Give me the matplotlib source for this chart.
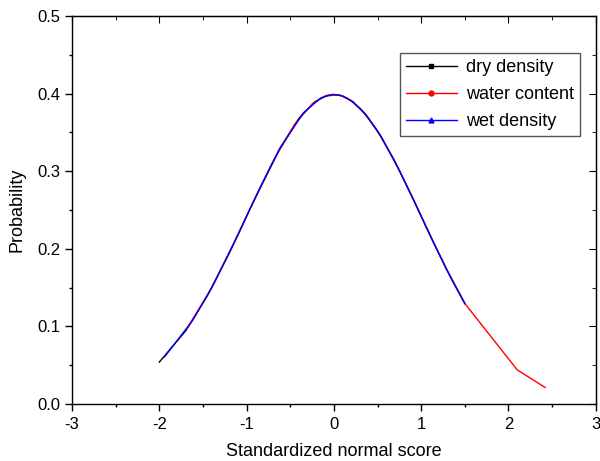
import matplotlib
matplotlib.use('Agg')
import matplotlib.pyplot as plt
from matplotlib.lines import Line2D
from matplotlib.ticker import MultipleLocator

plt.rcParams['font.family'] = ['Liberation Sans', 'DejaVu Sans']

# standardized scores and normal probabilities
dry_z = [-2.00, -1.70, -1.45, -1.20, -0.95, -0.62, -0.40, -0.22, -0.08, 0.00,
         0.10, 0.22, 0.38, 0.55, 0.75, 0.95, 1.15, 1.35, 1.50]
dry_p = [0.0540, 0.0940, 0.1394, 0.1942, 0.2541, 0.3292, 0.3683, 0.3894, 0.3977, 0.3989,
         0.3970, 0.3894, 0.3711, 0.3429, 0.3011, 0.2541, 0.2059, 0.1604, 0.1295]

water_z = [-1.68, -1.40, -1.15, -0.90, -0.70, -0.45, -0.25, -0.10, 0.05, 0.15,
           0.30, 0.48, 0.68, 0.88, 1.08, 1.28, 1.50, 2.10, 2.42]
water_p = [0.0973, 0.1497, 0.2059, 0.2661, 0.3123, 0.3605, 0.3867, 0.3970, 0.3984, 0.3945,
           0.3814, 0.3555, 0.3166, 0.2709, 0.2227, 0.1758, 0.1295, 0.0440, 0.0213]

wet_z = [-1.94, -1.62, -1.39, -1.10, -0.85, -0.62, -0.35, -0.15, -0.02, 0.08,
         0.20, 0.35, 0.52, 0.70, 0.90, 1.10, 1.30, 1.50]
wet_p = [0.0608, 0.1074, 0.1518, 0.2179, 0.2780, 0.3292, 0.3752, 0.3945, 0.3989, 0.3977,
         0.3910, 0.3752, 0.3485, 0.3123, 0.2661, 0.2179, 0.1714, 0.1295]

series = [
    ('dry density', dry_z, dry_p, 'black', 's'),
    ('water content', water_z, water_p, 'red', 'o'),
    ('wet density', wet_z, wet_p, 'blue', '^'),
]

fig = plt.figure(figsize=(6, 4.61), dpi=100)
ax = fig.add_axes([0.12, 0.1236, 0.873, 0.8416])

handles = []
for name, z, p, color, marker in series:
    ax.plot(z, p, color=color, lw=1.0)
    handles.append(Line2D([], [], color=color, lw=1.0, marker=marker,
                          markersize=3.5, label=name))

ax.set_xlim(-3, 3)
ax.set_ylim(0, 0.5)
ax.xaxis.set_major_locator(MultipleLocator(1))
ax.xaxis.set_minor_locator(MultipleLocator(0.5))
ax.yaxis.set_major_locator(MultipleLocator(0.1))
ax.yaxis.set_minor_locator(MultipleLocator(0.05))
ax.xaxis.set_major_formatter(lambda v, pos: '%d' % round(v))
ax.yaxis.set_major_formatter(lambda v, pos: '%.1f' % v)
ax.tick_params(which='major', direction='out', length=5, width=1, labelsize=12)
ax.tick_params(which='minor', direction='out', length=2.5, width=1)
ax.tick_params(axis='x', pad=4)

# top / right axes with inward ticks, no labels
top = ax.secondary_xaxis('top')
top.xaxis.set_major_locator(MultipleLocator(1))
top.xaxis.set_minor_locator(MultipleLocator(0.5))
top.tick_params(which='major', direction='in', length=5, labeltop=False)
top.tick_params(which='minor', direction='in', length=3)
right = ax.secondary_yaxis('right')
right.yaxis.set_major_locator(MultipleLocator(0.1))
right.yaxis.set_minor_locator(MultipleLocator(0.05))
right.tick_params(which='major', direction='in', length=5, labelright=False)
right.tick_params(which='minor', direction='in', length=3)

for s in ax.spines.values():
    s.set_linewidth(1.0)

ax.set_xlabel('Standardized normal score', fontsize=13, labelpad=8)
ax.set_ylabel('Probability', fontsize=13, labelpad=8)

leg = ax.legend(handles=handles, loc='upper right', bbox_to_anchor=(0.97, 0.905),
                fontsize=13, fancybox=False, framealpha=1, edgecolor='#555555',
                handlelength=2.8, borderpad=0.35, labelspacing=0.55,
                handletextpad=0.5, borderaxespad=0)
leg.get_frame().set_linewidth(1.0)

fig.savefig('out.png', dpi=100)
